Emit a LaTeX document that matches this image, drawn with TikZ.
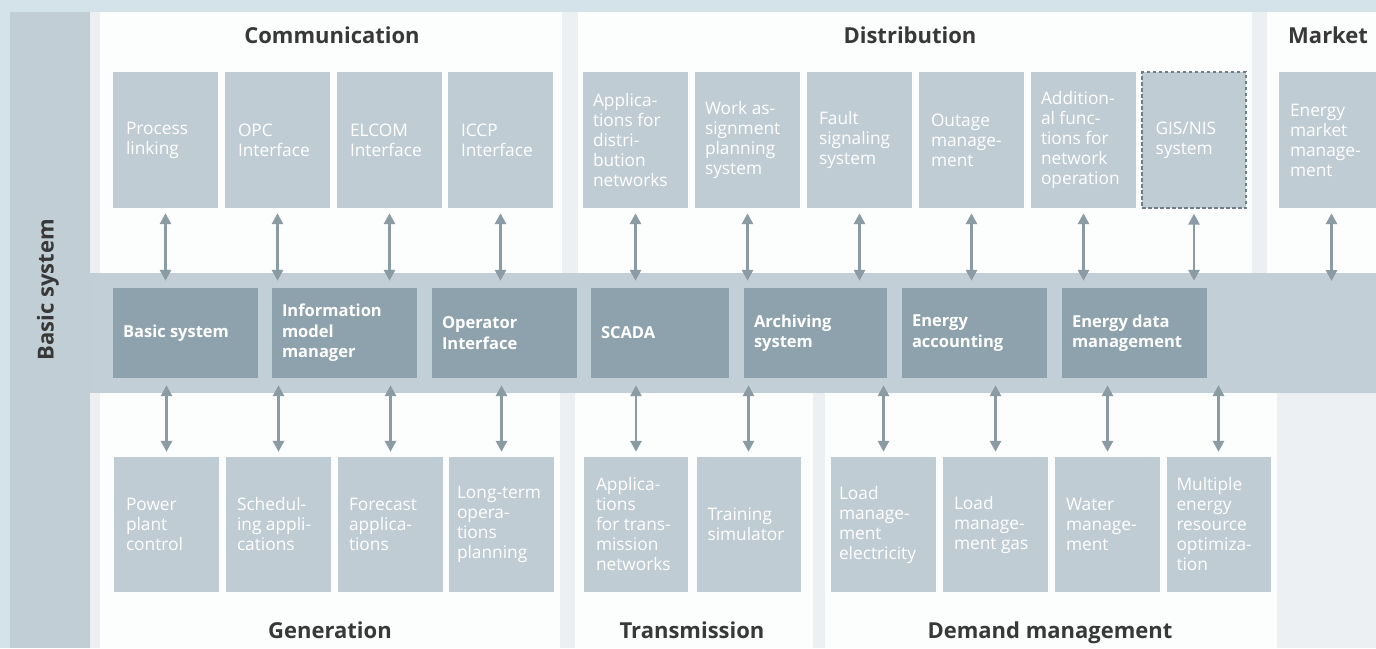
\documentclass[tikz,border=0pt]{standalone}
\usepackage{fontspec}
\setmainfont{Open Sans}
\usetikzlibrary{arrows.meta}
\definecolor{outerbg}{HTML}{D4E2E9}
\definecolor{stripcol}{HTML}{C1CED5}
\definecolor{bandcol}{HTML}{C3CFD6}
\definecolor{gapcol}{HTML}{ECF0F3}
\definecolor{panelcol}{HTML}{FCFDFD}
\definecolor{lightbox}{HTML}{C0CCD3}
\definecolor{darkbox}{HTML}{8EA2AD}
\definecolor{arrowcol}{HTML}{8A9BA4}
\definecolor{hdrcol}{HTML}{383838}
\definecolor{dashcol}{HTML}{6F7F88}
\begin{document}
\begin{tikzpicture}[x=1pt,y=-1pt,
  lbox/.style={fill=lightbox, draw=none, minimum width=105pt, minimum height=136pt, inner sep=0pt},
  dbox/.style={fill=darkbox, draw=none, minimum height=90pt, inner sep=0pt},
  btxt/.style={anchor=west, align=left, text=white, inner sep=0pt, font=\fontsize{17.3}{20}\selectfont},
  mtxt/.style={anchor=west, align=left, text=white, inner sep=0pt, font=\bfseries\fontsize{16.5}{20.5}\selectfont},
  hdr/.style={text=hdrcol, inner sep=0pt, anchor=base, font=\bfseries\fontsize{22}{26}\selectfont},
  dbl/.style={{Triangle[length=11pt,width=11pt]}-{Triangle[length=11pt,width=11pt]}, draw=arrowcol, line width=2.8pt}
]
\useasboundingbox (0,0) rectangle (1376,648);
\clip (0,0) rectangle (1376,648);
% backgrounds
\fill[outerbg] (0,0) rectangle (1376,648);
\fill[gapcol] (90,12) rectangle (1376,648);
\fill[stripcol] (10,12) rectangle (90,648);
\fill[panelcol] (100,12) rectangle (562,273);
\fill[panelcol] (578,12) rectangle (1252,273);
\fill[panelcol] (1267,12) rectangle (1376,273);
\fill[panelcol] (100,393) rectangle (560,648);
\fill[panelcol] (575,393) rectangle (813,648);
\fill[panelcol] (825,393) rectangle (1277,648);
\fill[bandcol] (90,273) rectangle (1376,393);

% headers
\node[hdr] (hcomm) at (332,43) {Communication};
\node[hdr] (hdist) at (910,43) {Distribution};
\node[hdr, anchor=base west] (hmark) at (1288,43) {Market};
\node[hdr] (hgen) at (330,638) {Generation};
\node[hdr] (htrans) at (692,638) {Transmission};
\node[hdr] (hdem) at (1050,638) {Demand management};
\node[hdr, anchor=center, rotate=90] (hbasic) at (48,290) {Basic system};

% top boxes
\node[lbox] (pl) at (165.5,140) {};
\node[lbox] (opc) at (277.5,140) {};
\node[lbox] (elc) at (389.5,140) {};
\node[lbox] (icc) at (500.5,140) {};
\node[lbox] (apd) at (635.5,140) {};
\node[lbox] (wap) at (747.5,140) {};
\node[lbox] (fss) at (859.5,140) {};
\node[lbox] (otm) at (971.5,140) {};
\node[lbox] (afn) at (1083.5,140) {};
\node[lbox, minimum width=104pt, draw=dashcol, line width=1.3pt, dash pattern=on 3.5pt off 2.5pt] (gis) at (1194,140) {};
\node[lbox] (emm) at (1331.5,140) {};

\node[btxt] (tpl) at ([xshift=13pt]pl.west) {Process\\linking};
\node[btxt] (topc) at ([xshift=13pt]opc.west) {OPC\\Interface};
\node[btxt] (telc) at ([xshift=13pt]elc.west) {ELCOM\\Interface};
\node[btxt] (ticc) at ([xshift=13pt]icc.west) {ICCP\\Interface};
\node[btxt] (tapd) at ([xshift=10pt]apd.west) {Applica-\\tions for\\distri-\\bution\\networks};
\node[btxt] (twap) at ([xshift=10pt]wap.west) {Work as-\\signment\\planning\\system};
\node[btxt] (tfss) at ([xshift=12pt]fss.west) {Fault\\signaling\\system};
\node[btxt] (totm) at ([xshift=12pt]otm.west) {Outage\\manage-\\ment};
\node[btxt] (tafn) at ([xshift=10pt]afn.west) {Addition-\\al func-\\tions for\\network\\operation};
\node[btxt] (tgis) at ([xshift=14pt]gis.west) {GIS/NIS\\system};
\node[btxt] (temm) at ([xshift=11pt]emm.west) {Energy\\market\\manage-\\ment};

% middle boxes
\node[dbox, minimum width=145pt] (bs) at (185.5,333) {};
\node[dbox, minimum width=145pt] (imm) at (344.5,333) {};
\node[dbox, minimum width=145pt] (opi) at (504.5,333) {};
\node[dbox, minimum width=138pt] (scada) at (660,333) {};
\node[dbox, minimum width=143pt] (arc) at (815.5,333) {};
\node[dbox, minimum width=145pt] (eac) at (974.5,333) {};
\node[dbox, minimum width=145pt] (edm) at (1134.5,333) {};

\node[mtxt] (tbs) at ([xshift=10pt]bs.west) {Basic system};
\node[mtxt] (timm) at ([xshift=10pt]imm.west) {Information\\model\\manager};
\node[mtxt] (topi) at ([xshift=10pt]opi.west) {Operator\\Interface};
\node[mtxt] (tscada) at ([xshift=10pt]scada.west) {SCADA};
\node[mtxt] (tarc) at ([xshift=10pt]arc.west) {Archiving\\system};
\node[mtxt] (teac) at ([xshift=10pt]eac.west) {Energy\\accounting};
\node[mtxt] (tedm) at ([xshift=10pt]edm.west) {Energy data\\management};

% bottom boxes
\node[lbox, minimum height=135pt] (ppc) at (166.5,524.5) {};
\node[lbox, minimum height=135pt] (sch) at (278.5,524.5) {};
\node[lbox, minimum height=135pt] (fca) at (390.5,524.5) {};
\node[lbox, minimum height=135pt] (lto) at (501.5,524.5) {};
\node[lbox, minimum height=135pt, minimum width=104pt] (apt) at (636,524.5) {};
\node[lbox, minimum height=135pt, minimum width=104pt] (trs) at (748.5,524.5) {};
\node[lbox, minimum height=135pt] (lme) at (883.5,524.5) {};
\node[lbox, minimum height=135pt] (lmg) at (995.5,524.5) {};
\node[lbox, minimum height=135pt] (wam) at (1107.5,524.5) {};
\node[lbox, minimum height=135pt, minimum width=104pt] (mer) at (1218.5,524.5) {};

\node[btxt] (tppc) at ([xshift=12pt]ppc.west) {Power\\plant\\control};
\node[btxt] (tsch) at ([xshift=11pt]sch.west) {Schedul-\\ing appli-\\cations};
\node[btxt] (tfca) at ([xshift=11pt]fca.west) {Forecast\\applica-\\tions};
\node[btxt] (tlto) at ([xshift=8pt]lto.west) {Long-term\\opera-\\tions\\planning};
\node[btxt] (tapt) at ([xshift=12pt]apt.west) {Applica-\\tions\\for trans-\\mission\\networks};
\node[btxt] (ttrs) at ([xshift=11pt]trs.west) {Training\\simulator};
\node[btxt] (tlme) at ([xshift=8pt]lme.west) {Load\\manage-\\ment\\electricity};
\node[btxt] (tlmg) at ([xshift=11pt]lmg.west) {Load\\manage-\\ment gas};
\node[btxt] (twam) at ([xshift=11pt]wam.west) {Water\\manage-\\ment};
\node[btxt] (tmer) at ([xshift=10pt]mer.west) {Multiple\\energy\\resource\\optimiza-\\tion};

% free arrow ends in the band
\coordinate (mkend) at (1331.5,281);
\coordinate (merend) at (1218.5,385);

% top arrows
\foreach \a/\b in {pl/bs, opc/imm, elc/imm, icc/opi, apd/scada, wap/arc, fss/arc, otm/eac, afn/edm, gis/edm}
  \draw[dbl, shorten <=5pt, shorten >=7pt] (\a.south) -- (\a.south |- \b.north);
\draw[dbl, shorten <=5pt] (emm.south) -- (mkend);

% bottom arrows
\foreach \a/\b in {ppc/bs, sch/imm, fca/imm, lto/opi, apt/scada, trs/arc, lme/arc, lmg/eac, wam/edm}
  \draw[dbl, shorten <=5pt, shorten >=7pt] (\a.north) -- (\a.north |- \b.south);
\draw[dbl, shorten <=5pt] (mer.north) -- (merend);
\end{tikzpicture}
\end{document}
